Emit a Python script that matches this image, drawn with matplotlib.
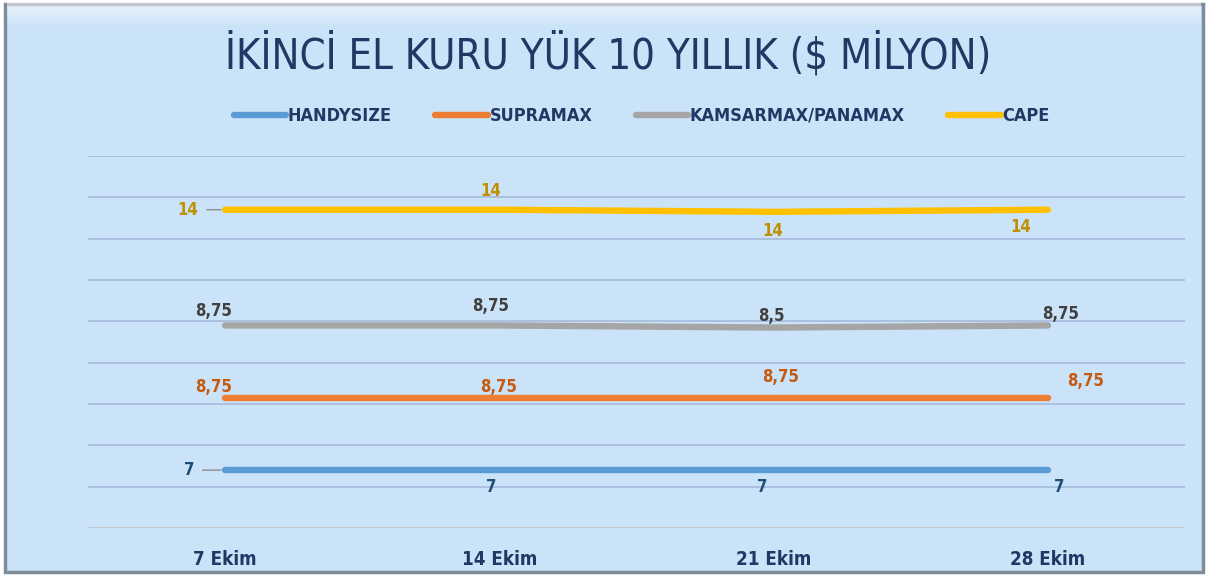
import numpy as np
import matplotlib
matplotlib.use('Agg')
import matplotlib.pyplot as plt
from matplotlib.patches import Rectangle
from matplotlib.lines import Line2D
from matplotlib import font_manager

# fonts: condensed look if available
names = {f.name for f in font_manager.fontManager.ttflist}
COND = 'Liberation Sans Narrow' if 'Liberation Sans Narrow' in names else 'DejaVu Sans'
plt.rcParams['font.family'] = [COND, 'DejaVu Sans']
plt.rcParams['font.stretch'] = 'condensed'

CATEGORIES = ['7 Ekim', '14 Ekim', '21 Ekim', '28 Ekim']
SERIES = ['HANDYSIZE', 'SUPRAMAX', 'KAMSARMAX/PANAMAX', 'CAPE']
handysize = [7, 7, 7, 7]
supramax = [8.75, 8.75, 8.75, 8.75]
kamsarmax = [8.75, 8.75, 8.5, 8.75]
cape = [14, 14, 14, 14]
TITLE = 'İKİNCİ EL KURU YÜK 10 YILLIK ($ MİLYON)'

COLORS = ['#5B9BD5', '#ED7D31', '#A5A5A5', '#FFC000']
LABEL_COLORS = ['#1F4E79', '#C55A11', '#404040', '#BF9000']
NAVY = '#1F3864'
BG = '#CBE3F8'

# label offsets in pixels (dx, dy) per series / point
OFFSETS = [
    [(-36, 0), (-8, -17), (-11, -17), (11, -17)],
    [(-12, 11), (-1, 11), (7, 21), (38, 17)],
    [(-12, 14), (-9, 19), (-2, 12), (13, 11)],
    [(-37, 0), (-9, 19), (-1, -19), (-27, -17)],
]

fig = plt.figure(figsize=[12.11, 5.78], dpi=100)
fig.patch.set_facecolor('white')

# chart frame
W, H = 1211, 578
frame = Rectangle((5 / W, 6 / H), 1198 / W, 568 / H, transform=fig.transFigure,
                  facecolor=BG, edgecolor='#7F8C99', linewidth=2.5, zorder=-2)
fig.patches.append(frame)
# light bevel at the top
for i in range(12):
    fig.patches.append(Rectangle((7 / W, (H - 4 - i * 2) / H), 1194 / W, 2 / H,
                                 transform=fig.transFigure, facecolor='white',
                                 alpha=0.55 * (1 - i / 12), edgecolor='none', zorder=-1))

ax = fig.add_axes([88 / W, (H - 528) / H, 1097 / W, (528 - 156) / H])
ax.set_facecolor('none')
ax.set_xlim(-0.5, 3.5)
ax.set_ylim(0, 45)
for s in ax.spines.values():
    s.set_visible(False)
ax.set_yticks([])
for yv in np.arange(5, 46, 5):
    ax.axhline(yv, color='#A9BEDD', lw=1.3, zorder=1)
ax.axhline(0, color='#C5CAD0', lw=1.5, zorder=1)

x = np.arange(len(CATEGORIES))
data = np.array([handysize, supramax, kamsarmax, cape])
stacked = np.cumsum(data, axis=0)

for k in range(len(SERIES)):
    ax.plot(x, stacked[k], color=COLORS[k], lw=4.6, solid_capstyle='round',
            solid_joinstyle='round', zorder=3, label=SERIES[k])
    for j in range(len(x)):
        dx, dy = OFFSETS[k][j]
        txt = f'{data[k][j]:g}'.replace('.', ',')
        kw = {}
        if j == 0 and dy == 0:
            kw = dict(arrowprops=dict(arrowstyle='-', color='#8C8C8C', lw=1,
                                      shrinkA=4, shrinkB=3, relpos=(1, 0.5)))
        ax.annotate(txt, (x[j], stacked[k][j]), xytext=(dx, dy),
                    textcoords='offset pixels', ha='center', va='center',
                    fontsize=12, fontweight='bold', color=LABEL_COLORS[k],
                    zorder=4, **kw)

ax.set_xticks(x)
ax.set_xticklabels(CATEGORIES, fontsize=13.5, fontweight='bold', color=NAVY)
ax.tick_params(axis='x', length=0, pad=16)

fig.text(0.502, 1 - 55 / H, TITLE, ha='center', va='center', fontsize=30,
         color=NAVY)

handles = [Line2D([], [], color=c, lw=4.6, solid_capstyle='round') for c in COLORS]
fig.legend(handles, SERIES, loc='center', bbox_to_anchor=(0.53, 1 - 116 / H),
           ncol=4, frameon=False, handlelength=2.9, handletextpad=0.1,
           columnspacing=2.4, prop={'size': 13, 'weight': 'bold'},
           labelcolor=NAVY)

fig.savefig('out.png', dpi=100, facecolor=fig.get_facecolor())
